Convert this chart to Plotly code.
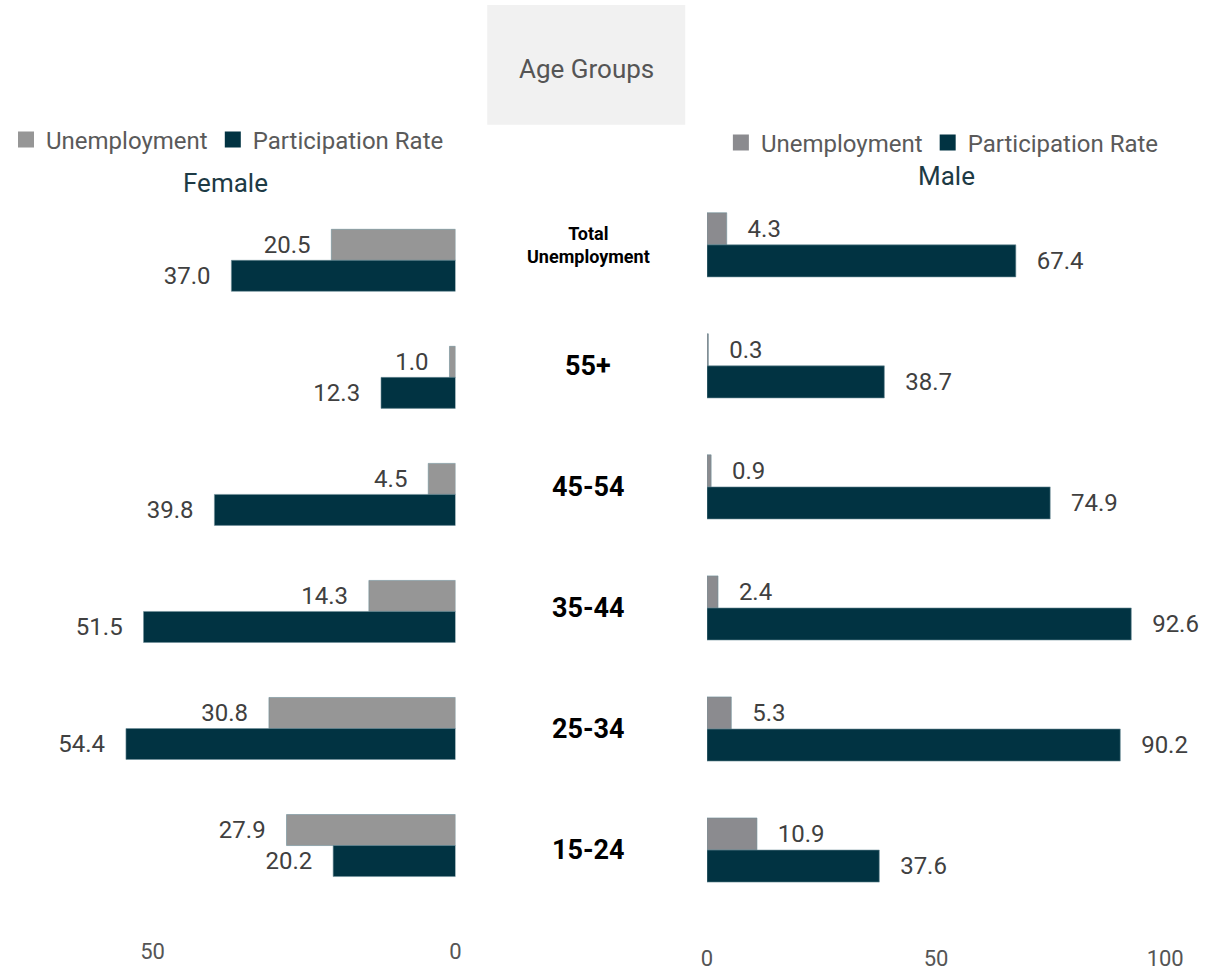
import plotly.graph_objects as go

# Age groups, listed top to bottom
age_groups = ["Total Unemployment", "55+", "45-54", "35-44", "25-34", "15-24"]
group_labels = ["<b>Total<br>Unemployment</b>", "<b>55+</b>", "<b>45-54</b>",
                "<b>35-44</b>", "<b>25-34</b>", "<b>15-24</b>"]

female_unemployment = [20.5, 1.0, 4.5, 14.3, 30.8, 27.9]
female_participation = [37.0, 12.3, 39.8, 51.5, 54.4, 20.2]
male_unemployment = [4.3, 0.3, 0.9, 2.4, 5.3, 10.9]
male_participation = [67.4, 38.7, 74.9, 92.6, 90.2, 37.6]

left_ticks = [0, 50]
right_ticks = [0, 50, 100]

GRAY_F = "#969696"
GRAY_M = "#8b8b8f"
DARK = "#013342"
LABEL = "#404040"
FONT = "Roboto"
NBSP = "\u00a0"

W, H = 1217, 971

fig = go.Figure()


def add_bar(x, color, name, xa, ya, side):
    if side == "left":
        labels = [f"{v:.1f}" + NBSP * 3 for v in x]
    else:
        labels = [NBSP * 3 + f"{v:.1f}" for v in x]
    fig.add_trace(go.Bar(
        x=x, y=age_groups, orientation="h", name=name, showlegend=False,
        marker=dict(color=color, line=dict(color="#6f8f98", width=0.6)),
        text=labels, textposition="outside",
        textfont=dict(family=FONT, size=24, color=LABEL),
        constraintext="none", cliponaxis=False,
        xaxis=xa, yaxis=ya,
    ))


def add_key(color, name, xa, ya, legend):
    # Square legend swatch for a bar series
    fig.add_trace(go.Scatter(
        x=[None], y=[None], mode="markers", name=name,
        marker=dict(symbol="square", size=20, color=color),
        xaxis=xa, yaxis=ya, legend=legend, showlegend=True,
    ))


add_bar(female_unemployment, GRAY_F, "Unemployment", "x", "y", "left")
add_bar(female_participation, DARK, "Participation Rate", "x", "y", "left")
add_bar(male_unemployment, GRAY_M, "Unemployment", "x2", "y2", "right")
add_bar(male_participation, DARK, "Participation Rate", "x2", "y2", "right")

add_key(GRAY_F, "Unemployment", "x", "y", "legend")
add_key(DARK, "Participation Rate", "x", "y", "legend")
add_key(GRAY_M, "Unemployment", "x2", "y2", "legend2")
add_key(DARK, "Participation Rate", "x2", "y2", "legend2")

axis_font = dict(family=FONT, size=22, color="#555555")
legend_font = dict(family=FONT, size=24, color="#5a5a5a")

fig.update_layout(
    width=W, height=H,
    margin=dict(l=0, r=0, t=0, b=0),
    paper_bgcolor="white", plot_bgcolor="white",
    barmode="group", bargap=0.47, bargroupgap=0,
    font=dict(family=FONT),
    xaxis=dict(domain=[0, 454 / W], range=[74.2, 0], tickvals=left_ticks,
               showgrid=False, zeroline=False, showline=False,
               tickfont=axis_font, ticklabelstandoff=32, anchor="y"),
    yaxis=dict(domain=[(H - 905) / H, (H - 202) / H], categoryorder="array",
               categoryarray=age_groups, autorange="reversed",
               showticklabels=False, showgrid=False, zeroline=False, anchor="x"),
    xaxis2=dict(domain=[708 / W, 1.0], range=[0, 110], tickvals=right_ticks,
                showgrid=False, zeroline=False, showline=False,
                tickfont=axis_font, ticklabelstandoff=32, anchor="y2"),
    yaxis2=dict(domain=[(H - 911.5) / H, (H - 184.5) / H], categoryorder="array",
                categoryarray=age_groups, autorange="reversed",
                showticklabels=False, showgrid=False, zeroline=False, anchor="x2"),
    legend=dict(orientation="h", x=0, xanchor="left", y=1 - 140 / H,
                yanchor="middle", font=legend_font, itemwidth=30,
                bgcolor="rgba(0,0,0,0)", itemclick=False, traceorder="normal"),
    legend2=dict(orientation="h", x=722 / W, xanchor="left", y=1 - 143 / H,
                 yanchor="middle", font=legend_font, itemwidth=30,
                 bgcolor="rgba(0,0,0,0)", itemclick=False, traceorder="normal"),
    showlegend=True,
)

# Header box
fig.add_shape(type="rect", xref="paper", yref="paper",
              x0=486 / W, x1=686 / W, y0=1 - 125 / H, y1=1 - 5 / H,
              fillcolor="#f1f1f1", line=dict(width=0), layer="below")
fig.add_annotation(text="Age Groups", xref="paper", yref="paper",
                   x=586 / W, y=1 - 69 / H, xanchor="center", yanchor="middle",
                   showarrow=False,
                   font=dict(family=FONT, size=26, color="#555555"))

# Panel titles
fig.add_annotation(text="Female", xref="paper", yref="paper",
                   x=222 / W, y=1 - 183 / H, xanchor="center", yanchor="middle",
                   showarrow=False,
                   font=dict(family=FONT, size=26, color="#1d3a45"))
fig.add_annotation(text="Male", xref="paper", yref="paper",
                   x=950 / W, y=1 - 176 / H, xanchor="center", yanchor="middle",
                   showarrow=False,
                   font=dict(family=FONT, size=26, color="#1d3a45"))

# Age group labels in the centre column
for cat, lab in zip(age_groups, group_labels):
    small = "<br>" in lab
    fig.add_annotation(text=lab, xref="paper", yref="y2", x=588 / W, y=cat,
                       xanchor="center", showarrow=False, align="center",
                       font=dict(family=FONT, size=18 if small else 27, color="#000000"))

fig.write_html("out.html")
